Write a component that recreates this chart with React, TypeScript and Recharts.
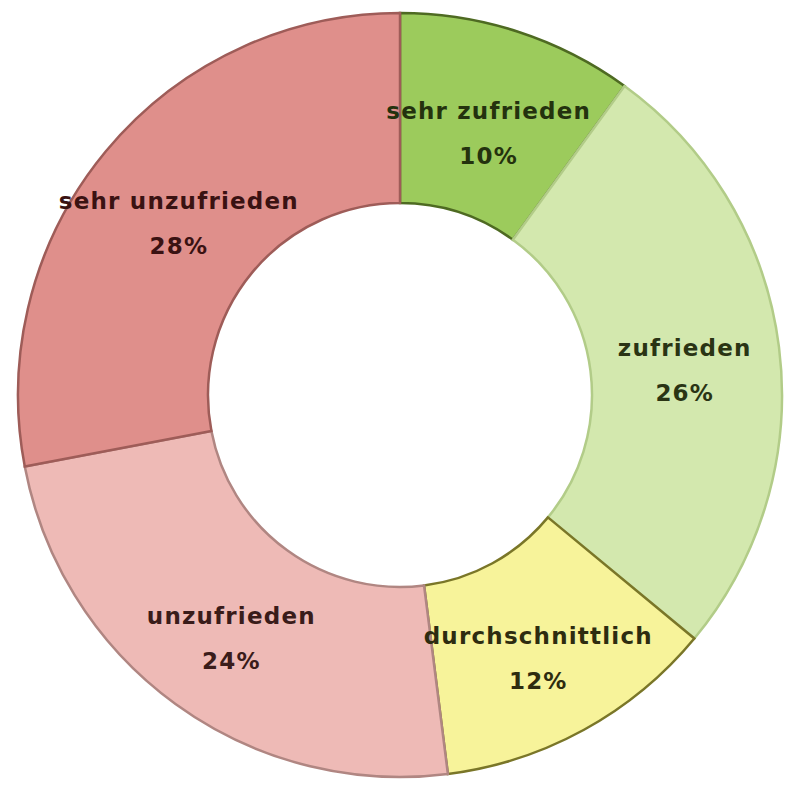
import React from 'react';
import { PieChart, Pie, Cell } from 'recharts';

const categories = ['sehr zufrieden', 'zufrieden', 'durchschnittlich', 'unzufrieden', 'sehr unzufrieden'];
const shares = [10, 26, 12, 24, 28];
const fills = ['#9ccb5c', '#d3e8ae', '#f7f39a', '#eebab6', '#df8f8b'];
const strokes = ['#4e6a22', '#b2cc88', '#7a7628', '#b08682', '#9e5c58'];
const textColors = ['#24320e', '#2a3414', '#2e2c10', '#3a1c1a', '#3a1212'];

const data = categories.map((name, i) => ({ name, value: shares[i] }));

const RAD = Math.PI / 180;

const renderLabel = (props: any) => {
  const { cx, cy, midAngle, innerRadius, outerRadius, index } = props;
  const r = (innerRadius + outerRadius) / 2;
  const x = cx + r * Math.cos(-midAngle * RAD);
  const y = cy + r * Math.sin(-midAngle * RAD);
  return (
    <text
      x={x}
      y={y}
      textAnchor="middle"
      fill={textColors[index]}
      fontFamily="'DejaVu Sans', sans-serif"
      fontWeight="bold"
      fontSize={23}
      letterSpacing={1.2}
    >
      <tspan x={x} dy={-3}>{categories[index]}</tspan>
      <tspan x={x} dy={45}>{shares[index]}%</tspan>
    </text>
  );
};

const App: React.FC = () => {
  return (
    <div style={{ width: 796, height: 792, background: '#fff' }}>
      <PieChart width={796} height={792}>
        <Pie
          data={data}
          dataKey="value"
          nameKey="name"
          cx={387}
          cy={382}
          innerRadius={192}
          outerRadius={382}
          startAngle={90}
          endAngle={-270}
          label={renderLabel}
          labelLine={false}
          isAnimationActive={false}
        >
          {data.map((d, i) => (
            <Cell key={d.name} fill={fills[i]} stroke={strokes[i]} strokeWidth={2.5} />
          ))}
        </Pie>
      </PieChart>
    </div>
  );
};

export default App;
